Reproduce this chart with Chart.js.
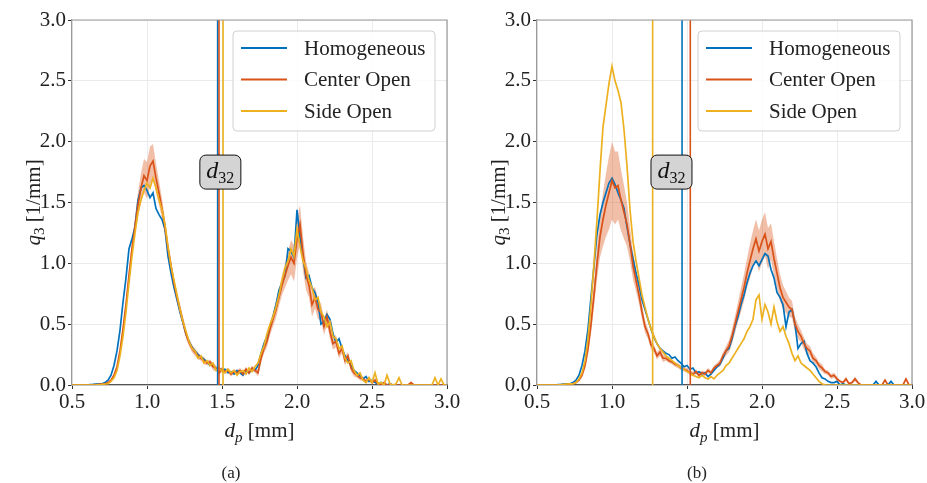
<!DOCTYPE html>
<html>
<head>
<meta charset="utf-8">
<script src="https://cdn.jsdelivr.net/npm/chart.js@4.4.0/dist/chart.umd.min.js"></script>
<style>
  html, body { margin: 0; padding: 0; background: #fff; }
  #wrap { position: relative; width: 927px; height: 483px; overflow: hidden; }
  canvas { position: absolute; top: 0; }
  #cA { left: 0; }
  #cB { left: 465px; }
</style>
</head>
<body>
<div id="wrap">
  <canvas id="cA" width="465" height="483"></canvas>
  <canvas id="cB" width="462" height="483"></canvas>
</div>
<script>
// particle diameter grid d_p [mm]
const dp = [
  0.50,0.52,0.54,0.56,0.58,0.60,0.62,0.64,0.66,0.68,
  0.70,0.72,0.74,0.76,0.78,0.80,0.82,0.84,0.86,0.88,
  0.90,0.92,0.94,0.96,0.98,1.00,1.02,1.04,1.06,1.08,
  1.10,1.12,1.14,1.16,1.18,1.20,1.22,1.24,1.26,1.28,
  1.30,1.32,1.34,1.36,1.38,1.40,1.42,1.44,1.46,1.48,
  1.50,1.52,1.54,1.56,1.58,1.60,1.62,1.64,1.66,1.68,
  1.70,1.72,1.74,1.76,1.78,1.80,1.82,1.84,1.86,1.88,
  1.90,1.92,1.94,1.96,1.98,2.00,2.02,2.04,2.06,2.08,
  2.10,2.12,2.14,2.16,2.18,2.20,2.22,2.24,2.26,2.28,
  2.30,2.32,2.34,2.36,2.38,2.40,2.42,2.44,2.46,2.48,
  2.50,2.52,2.54,2.56,2.58,2.60,2.62,2.64,2.66,2.68,
  2.70,2.72,2.74,2.76,2.78,2.80,2.82,2.84,2.86,2.88,
  2.90,2.92,2.94,2.96,2.98,3.00
];

// (a) q3 distributions
const aHomogeneous = [
  0,0,0,0,0,0,0.003,0.005,0.008,0.01,
  0.01,0.02,0.04,0.08,0.16,0.28,0.45,0.68,0.88,1.12,
  1.20,1.30,1.52,1.62,1.64,1.60,1.54,1.58,1.45,1.40,
  1.36,1.28,1.06,0.92,0.80,0.70,0.60,0.51,0.42,0.36,
  0.31,0.28,0.25,0.23,0.21,0.19,0.16,0.17,0.13,0.14,
  0.12,0.13,0.10,0.11,0.09,0.12,0.10,0.08,0.12,0.10,
  0.13,0.12,0.16,0.26,0.34,0.40,0.48,0.56,0.66,0.78,
  0.84,0.90,1.12,1.10,1.05,1.44,1.22,1.05,0.88,0.90,
  0.80,0.76,0.68,0.50,0.52,0.58,0.54,0.42,0.35,0.38,
  0.30,0.24,0.20,0.16,0.12,0.10,0.08,0.05,0.07,0.03,
  0.04,0.02,0.01,0.02,0,0,0.01,0,0,0,
  0,0,0,0,0,0,0,0,0,0,
  0,0,0,0,0,0
];
const aCenterOpen = [
  0,0,0,0,0,0,0,0,0.003,0.005,
  0.008,0.01,0.02,0.04,0.08,0.15,0.28,0.46,0.66,0.90,
  1.12,1.30,1.48,1.62,1.72,1.68,1.80,1.84,1.70,1.58,
  1.45,1.30,1.12,0.98,0.84,0.72,0.62,0.52,0.42,0.35,
  0.30,0.27,0.24,0.22,0.20,0.18,0.19,0.15,0.14,0.10,
  0.13,0.11,0.12,0.09,0.11,0.10,0.12,0.09,0.13,0.10,
  0.14,0.12,0.10,0.22,0.30,0.36,0.46,0.54,0.62,0.72,
  0.82,0.90,0.98,1.05,1.00,1.20,1.32,1.08,0.90,0.82,
  0.66,0.72,0.62,0.60,0.48,0.56,0.44,0.34,0.36,0.26,
  0.30,0.20,0.24,0.14,0.10,0.08,0.06,0.05,0.03,0.05,
  0.02,0.04,0.01,0,0.02,0,0,0,0,0,
  0,0,0,0.02,0,0,0,0,0,0,
  0,0,0,0,0,0
];
const aCenterOpenStd = [
  0,0,0,0,0,0,0,0,0,0,
  0,0,0,0,0.01,0.02,0.03,0.04,0.05,0.06,
  0.07,0.08,0.10,0.12,0.14,0.15,0.16,0.14,0.12,0.10,
  0.08,0.06,0.05,0.05,0.04,0.04,0.05,0.04,0.04,0.03,
  0.03,0.03,0.03,0.02,0.03,0.02,0.02,0.03,0.02,0.02,
  0.02,0.02,0.02,0.02,0.02,0.02,0.02,0.02,0.02,0.02,
  0.02,0.02,0.03,0.04,0.04,0.05,0.05,0.06,0.07,0.07,
  0.08,0.10,0.12,0.14,0.15,0.16,0.16,0.14,0.12,0.10,
  0.10,0.09,0.08,0.07,0.07,0.06,0.06,0.05,0.05,0.04,
  0.04,0.04,0.03,0.03,0.03,0.02,0.02,0.02,0.02,0.02,
  0.01,0.02,0.01,0,0.01,0,0,0,0,0,
  0,0,0,0.01,0,0,0,0,0,0,
  0,0,0,0,0,0
];
const aSideOpen = [
  0,0,0,0,0,0,0,0,0,0.003,
  0.005,0.008,0.01,0.03,0.06,0.12,0.24,0.40,0.60,0.84,
  1.06,1.25,1.42,1.52,1.60,1.66,1.62,1.70,1.62,1.52,
  1.44,1.32,1.14,0.98,0.86,0.74,0.62,0.52,0.44,0.36,
  0.30,0.28,0.22,0.24,0.18,0.20,0.16,0.18,0.12,0.14,
  0.11,0.10,0.13,0.10,0.12,0.08,0.11,0.12,0.09,0.14,
  0.11,0.15,0.18,0.26,0.32,0.42,0.50,0.56,0.64,0.74,
  0.86,0.96,1.02,1.12,1.06,1.28,1.14,1.02,0.96,0.86,
  0.80,0.70,0.72,0.60,0.56,0.48,0.52,0.40,0.38,0.30,
  0.32,0.22,0.18,0.20,0.12,0.08,0.10,0.04,0.02,0.06,
  0.02,0.10,0.01,0.02,0,0.08,0.01,0,0.01,0.06,
  0,0,0,0,0,0,0,0,0,0,
  0,0.06,0,0.05,0,0
];

// (b) q3 distributions
const bHomogeneous = [
  0,0,0,0,0,0,0,0.003,0.005,0.008,
  0.01,0.01,0.02,0.04,0.08,0.16,0.28,0.46,0.72,0.98,
  1.24,1.40,1.50,1.58,1.66,1.70,1.65,1.58,1.52,1.45,
  1.30,1.16,1.04,0.92,0.82,0.70,0.62,0.54,0.46,0.39,
  0.34,0.30,0.28,0.26,0.25,0.22,0.23,0.20,0.18,0.15,
  0.16,0.13,0.14,0.10,0.11,0.09,0.10,0.07,0.09,0.12,
  0.15,0.17,0.22,0.28,0.30,0.38,0.48,0.56,0.66,0.74,
  0.84,0.92,0.98,1.02,0.98,1.03,1.08,1.06,0.95,0.88,
  0.76,0.72,0.66,0.48,0.60,0.62,0.50,0.30,0.34,0.36,
  0.26,0.20,0.18,0.15,0.10,0.06,0.05,0.03,0.02,0.02,
  0.03,0,0.01,0,0,0,0,0,0,0,
  0,0,0,0.03,0,0,0,0,0.03,0,
  0,0,0,0,0,0
];
const bCenterOpen = [
  0,0,0,0,0,0,0,0,0,0.003,
  0.005,0.008,0.01,0.02,0.04,0.08,0.16,0.30,0.50,0.74,
  1.00,1.22,1.36,1.48,1.58,1.68,1.62,1.64,1.52,1.42,
  1.32,1.16,0.98,0.86,0.74,0.60,0.48,0.42,0.33,0.30,
  0.24,0.27,0.22,0.22,0.20,0.19,0.17,0.16,0.14,0.13,
  0.12,0.10,0.09,0.11,0.08,0.10,0.09,0.12,0.10,0.14,
  0.16,0.18,0.24,0.28,0.32,0.40,0.50,0.60,0.70,0.80,
  0.92,1.02,1.12,1.20,1.10,1.18,1.24,1.12,1.18,1.04,
  0.92,0.80,0.72,0.68,0.64,0.62,0.50,0.44,0.40,0.34,
  0.30,0.28,0.22,0.20,0.16,0.14,0.11,0.10,0.07,0.08,
  0.05,0.03,0.02,0.05,0.01,0.02,0.05,0.02,0,0,
  0,0,0,0,0,0,0.04,0,0,0,
  0,0,0,0.05,0,0
];
const bCenterOpenStd = [
  0,0,0,0,0,0,0,0,0,0,
  0,0,0,0.01,0.01,0.02,0.03,0.05,0.08,0.10,
  0.13,0.17,0.22,0.26,0.30,0.32,0.30,0.28,0.25,0.22,
  0.18,0.14,0.11,0.09,0.07,0.06,0.05,0.04,0.04,0.03,
  0.03,0.03,0.03,0.02,0.02,0.02,0.02,0.02,0.02,0.02,
  0.02,0.02,0.02,0.02,0.02,0.02,0.02,0.02,0.02,0.02,
  0.02,0.03,0.03,0.04,0.05,0.06,0.07,0.08,0.10,0.11,
  0.12,0.14,0.15,0.16,0.17,0.18,0.18,0.17,0.15,0.14,
  0.12,0.11,0.10,0.09,0.08,0.07,0.06,0.06,0.05,0.05,
  0.04,0.04,0.04,0.03,0.03,0.03,0.02,0.02,0.02,0.02,
  0.02,0.01,0.01,0.02,0.01,0.01,0.02,0.01,0,0,
  0,0,0,0,0,0,0.01,0,0,0,
  0,0,0,0.01,0,0
];
const bSideOpen = [
  0,0,0,0,0,0,0,0,0.003,0.005,
  0.008,0.01,0.01,0.02,0.05,0.10,0.20,0.38,0.66,1.00,
  1.36,1.76,2.12,2.30,2.48,2.62,2.50,2.42,2.32,2.10,
  1.80,1.44,1.18,1.02,0.88,0.74,0.64,0.54,0.46,0.40,
  0.34,0.30,0.27,0.24,0.22,0.20,0.18,0.16,0.14,0.13,
  0.11,0.10,0.08,0.07,0.06,0.08,0.06,0.05,0.07,0.05,
  0.08,0.10,0.12,0.16,0.18,0.22,0.26,0.30,0.34,0.38,
  0.44,0.48,0.54,0.70,0.74,0.54,0.66,0.60,0.50,0.64,
  0.52,0.44,0.48,0.40,0.34,0.26,0.20,0.24,0.18,0.16,
  0.14,0.12,0.09,0.06,0.03,0.01,0,0,0,0,
  0,0,0,0,0,0,0,0,0,0,
  0,0,0,0,0,0,0,0,0,0,
  0,0,0,0,0,0
];

// Sauter mean diameters d32 [mm]: Homogeneous, Center Open, Side Open
const aD32 = [1.471, 1.480, 1.507];
const bD32 = [1.467, 1.522, 1.271];

const seriesNames = ['Homogeneous', 'Center Open', 'Side Open'];
const xTicks = [0.5, 1.0, 1.5, 2.0, 2.5, 3.0];
const yTicks = [0.0, 0.5, 1.0, 1.5, 2.0, 2.5, 3.0];

const COLORS = ['#0072BD', '#D95319', '#EDB120'];
const SERIF = '"Liberation Serif", "DejaVu Serif", serif';

function pts(ys) { return dp.map((x, i) => ({ x: x, y: ys[i] })); }

function rich(ctx, parts) {
  // parts: [text, size, italic, dy]
  let w = 0;
  parts.forEach(p => { ctx.font = (p[2] ? 'italic ' : '') + p[1] + 'px ' + SERIF; w += ctx.measureText(p[0]).width; });
  return w;
}
function drawRich(ctx, parts, cx, cy) {
  const w = rich(ctx, parts);
  let x = cx - w / 2;
  ctx.textBaseline = 'alphabetic';
  ctx.textAlign = 'left';
  parts.forEach(p => {
    ctx.font = (p[2] ? 'italic ' : '') + p[1] + 'px ' + SERIF;
    ctx.fillText(p[0], x, cy + p[3]);
    x += ctx.measureText(p[0]).width;
  });
}
function roundRect(ctx, x, y, w, h, r) {
  ctx.beginPath();
  ctx.moveTo(x + r, y);
  ctx.lineTo(x + w - r, y);
  ctx.arcTo(x + w, y, x + w, y + r, r);
  ctx.lineTo(x + w, y + h - r);
  ctx.arcTo(x + w, y + h, x + w - r, y + h, r);
  ctx.lineTo(x + r, y + h);
  ctx.arcTo(x, y + h, x, y + h - r, r);
  ctx.lineTo(x, y + r);
  ctx.arcTo(x, y, x + r, y, r);
  ctx.closePath();
}

const decorPlugin = {
  id: 'decor',
  afterDatasetsDraw(chart, args, opts) {
    const ctx = chart.ctx, a = chart.chartArea;
    const xs = chart.scales.x, ys = chart.scales.y;
    ctx.save();
    // d32 marker lines
    opts.d32.forEach((v, i) => {
      const px = xs.getPixelForValue(v);
      ctx.strokeStyle = COLORS[i];
      ctx.lineWidth = 1.6;
      ctx.beginPath(); ctx.moveTo(px, a.top); ctx.lineTo(px, a.bottom); ctx.stroke();
    });
    // d32 label box
    const lo = Math.min.apply(null, opts.d32), hi = Math.max.apply(null, opts.d32);
    const bx = xs.getPixelForValue((lo + hi) / 2), by = ys.getPixelForValue(1.75);
    roundRect(ctx, bx - 20.5, by - 17, 41, 34, 6);
    ctx.fillStyle = '#d4d4d4'; ctx.fill();
    ctx.strokeStyle = '#111'; ctx.lineWidth = 1; ctx.stroke();
    ctx.fillStyle = '#111';
    drawRich(ctx, [['d', 24, true, 0], ['32', 16, false, 5]], bx, by + 6);
    // frame: top and right spines
    ctx.strokeStyle = '#999'; ctx.lineWidth = 1.2;
    ctx.beginPath();
    ctx.moveTo(a.left, a.top); ctx.lineTo(a.right, a.top); ctx.lineTo(a.right, a.bottom);
    ctx.stroke();
    // legend
    const L = a.left + 161, T = a.top + 11, W = 202, H = 100;
    roundRect(ctx, L, T, W, H, 4);
    ctx.fillStyle = 'rgba(255,255,255,0.85)'; ctx.fill();
    ctx.strokeStyle = '#d0d0d0'; ctx.lineWidth = 1; ctx.stroke();
    seriesNames.forEach((name, i) => {
      const ry = T + 17 + i * 31.5;
      ctx.strokeStyle = COLORS[i]; ctx.lineWidth = 2;
      ctx.beginPath(); ctx.moveTo(L + 8, ry); ctx.lineTo(L + 54, ry); ctx.stroke();
      ctx.fillStyle = '#222';
      ctx.font = '21px ' + SERIF;
      ctx.textAlign = 'left'; ctx.textBaseline = 'middle';
      ctx.fillText(name, L + 71, ry + 1);
    });
    ctx.restore();
  },
  afterDraw(chart, args, opts) {
    const ctx = chart.ctx, a = chart.chartArea;
    ctx.save();
    ctx.fillStyle = '#222';
    // y title
    ctx.save();
    ctx.translate(a.left - 39, (a.top + a.bottom) / 2);
    ctx.rotate(-Math.PI / 2);
    drawRich(ctx, [['q', 21, true, 0], ['3', 15, false, 4], [' [1/mm]', 21, false, 0]], 0, 7);
    ctx.restore();
    // x title
    drawRich(ctx, [['d', 21, true, 0], ['p', 15, true, 5], [' [mm]', 21, false, 0]], (a.left + a.right) / 2, a.bottom + 52);
    // panel label
    ctx.font = '17px ' + SERIF;
    ctx.textAlign = 'center'; ctx.textBaseline = 'alphabetic';
    ctx.fillText(opts.tag, opts.tagX, 478);
    ctx.restore();
  }
};

function makeChart(id, h, c, cStd, s, d32, tag, tagX, padRight) {
  const upper = c.map((v, i) => v + cStd[i]);
  const lower = c.map((v, i) => Math.max(0, v - cStd[i]));
  const line = (label, ys, color, order) => ({
    label: label, data: pts(ys), borderColor: color, borderWidth: 1.7,
    pointRadius: 0, tension: 0, fill: false, order: order
  });
  return new Chart(document.getElementById(id), {
    type: 'line',
    data: {
      datasets: [
        line(seriesNames[2], s, COLORS[2], 1),
        line(seriesNames[1], c, COLORS[1], 2),
        line(seriesNames[0], h, COLORS[0], 3),
        { label: 'band upper', data: pts(upper), borderWidth: 0, pointRadius: 0, fill: false, order: 4 },
        { label: 'band lower', data: pts(lower), borderWidth: 0, pointRadius: 0, order: 5,
          fill: 3, backgroundColor: 'rgba(217,83,25,0.38)' }
      ]
    },
    options: {
      responsive: false,
      animation: false,
      devicePixelRatio: 1,
      layout: { padding: { top: 20, right: padRight, left: 0, bottom: 0 } },
      plugins: {
        legend: { display: false },
        tooltip: { enabled: false },
        decor: { d32: d32, tag: tag, tagX: tagX }
      },
      scales: {
        x: {
          type: 'linear', min: 0.5, max: 3.0,
          afterBuildTicks: sc => { sc.ticks = xTicks.map(v => ({ value: v })); },
          afterFit: sc => { sc.height = 98; },
          grid: { color: '#ebebeb', lineWidth: 1, tickColor: '#333', tickLength: 4 },
          border: { color: '#555', width: 1.2 },
          ticks: { color: '#222', padding: 1, font: { family: SERIF, size: 21 },
                   callback: v => Number(v).toFixed(1), maxRotation: 0 }
        },
        y: {
          type: 'linear', min: 0, max: 3.0,
          afterBuildTicks: sc => { sc.ticks = yTicks.map(v => ({ value: v })); },
          afterFit: sc => { sc.width = 72; },
          grid: { color: '#ebebeb', lineWidth: 1, tickColor: '#333', tickLength: 4 },
          border: { color: '#999', width: 1.2 },
          ticks: { color: '#222', padding: 2, font: { family: SERIF, size: 21 },
                   callback: v => Number(v).toFixed(1) }
        }
      }
    },
    plugins: [decorPlugin]
  });
}

makeChart('cA', aHomogeneous, aCenterOpen, aCenterOpenStd, aSideOpen, aD32, '(a)', 231, 18);
makeChart('cB', bHomogeneous, bCenterOpen, bCenterOpenStd, bSideOpen, bD32, '(b)', 232, 15);
</script>
</body>
</html>
